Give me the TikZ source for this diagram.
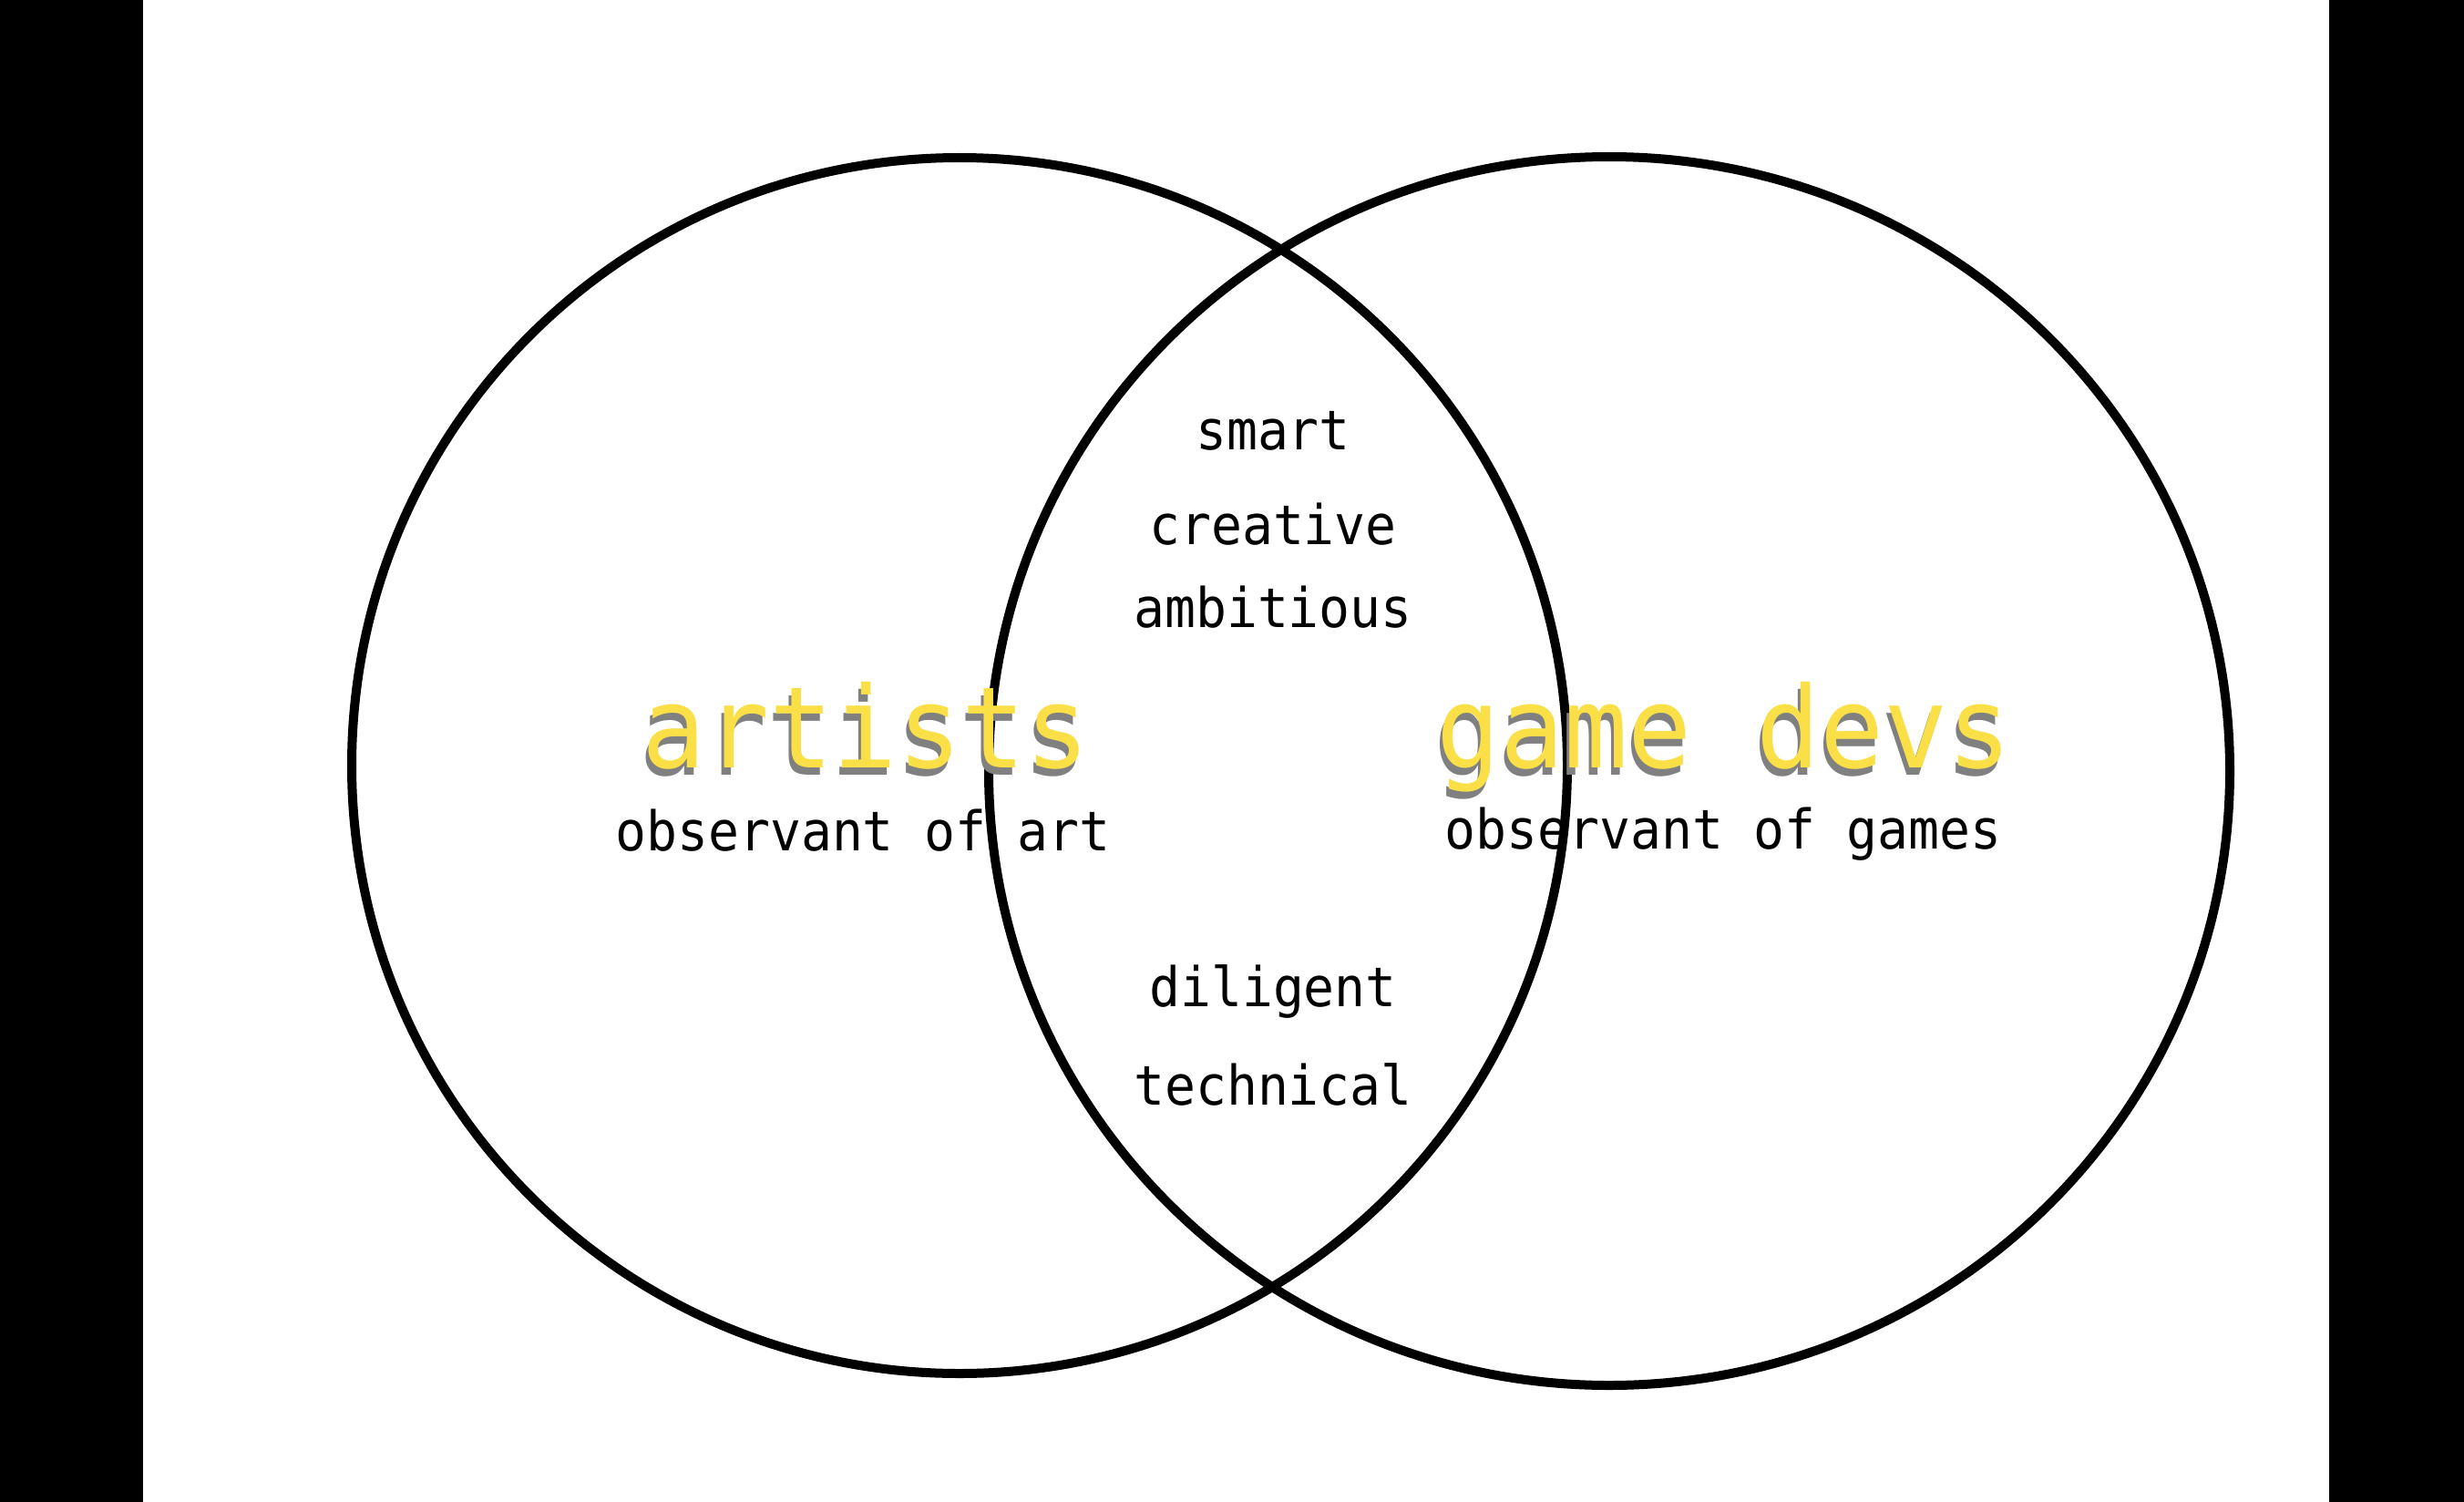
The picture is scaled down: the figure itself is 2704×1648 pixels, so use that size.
\documentclass[tikz,border=0pt]{standalone}
\usepackage{fontspec}
\newfontfamily\monof[FakeStretch=0.94]{DejaVu Sans Mono}
\definecolor{titleyellow}{RGB}{250,224,70}
\definecolor{shadowgray}{RGB}{128,128,128}
\begin{document}
\begin{tikzpicture}[x=1pt,y=-1pt,
  ring/.style={draw=black,line width=10pt},
  small/.style={font=\monof\fontsize{60}{60}\selectfont, inner sep=0pt, anchor=base, text=black},
  big/.style={font=\monof\fontsize{124}{124}\selectfont, inner sep=0pt, anchor=base},
  bigshadow/.style={big, text=shadowgray},
  bigtext/.style={big, text=titleyellow}]
\fill[black] (0,0) rectangle (2704,1648);
\fill[white] (157,0) rectangle (2556,1648);
\useasboundingbox (0,0) rectangle (2704,1648);
\draw[ring] (1053,840) circle [radius=667];
\draw[ring] (1766,846) ellipse [x radius=681, y radius=674];
% titles with shadow
\node[bigshadow] (artshadow) at (947,850) {artists};
\node[bigtext] (artists) at (950,842) {artists};
\node[bigshadow] (gameshadow) at (1889,850) {game devs};
\node[bigtext] (gamedevs) at (1892,842) {game devs};
% subtitles
\node[small] (obsart) at (947,933) {observant of art};
\node[small] (obsgames) at (1891,931) {observant of games};
% overlap
\node[small] (smart) at (1397,493) {smart};
\node[small] (creative) at (1397,597) {creative};
\node[small] (ambitious) at (1397,688) {ambitious};
\node[small] (diligent) at (1397,1104) {diligent};
\node[small] (technical) at (1397,1212) {technical};
\end{tikzpicture}
\end{document}
